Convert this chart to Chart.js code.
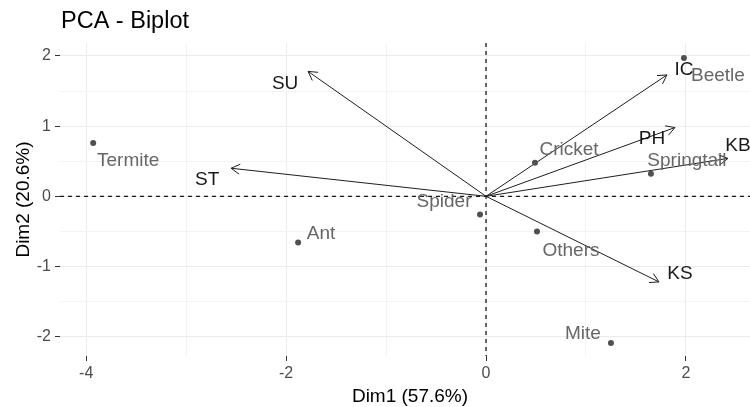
<!DOCTYPE html>
<html lang="en">
<head>
<meta charset="UTF-8">
<title>PCA - Biplot</title>
<style>
  html, body { margin: 0; padding: 0; background: #fff; }
  #wrap { width: 750px; height: 407px; }
</style>
</head>
<body>
<div id="wrap"><canvas id="myChart"></canvas></div>
<script src="https://cdn.jsdelivr.net/npm/chart.js"></script>
<script>
  // individuals (PCA scores)
  const indNames = ['Termite', 'Ant', 'Spider', 'Others', 'Mite', 'Cricket', 'Springtail', 'Beetle'];
  const indDim1 = [-3.93, -1.88, -0.06, 0.51, 1.25, 0.49, 1.65, 1.98];
  const indDim2 = [0.76, -0.66, -0.26, -0.50, -2.09, 0.48, 0.32, 1.97];

  // variables (arrows)
  const varNames = ['SU', 'ST', 'IC', 'PH', 'KB', 'KS'];
  const varDim1 = [-1.78, -2.55, 1.81, 1.89, 2.42, 1.73];
  const varDim2 = [1.78, 0.40, 1.73, 0.98, 0.54, -1.22];

  // axis breaks
  const xTicks = [-4, -3, -2, -1, 0, 1, 2];
  const xMajor = [-4, -2, 0, 2];
  const yTicks = [-2, -1.5, -1, -0.5, 0, 0.5, 1, 1.5, 2];
  const yMajor = [-2, -1, 0, 1, 2];

  // label placement (pixel offsets from the point / arrow tip)
  const indLabelOffset = {
    Termite: [35, 17.5], Ant: [23, -9], Spider: [-36, -13], Others: [34, 19],
    Mite: [-28, -9], Cricket: [34, -13], Springtail: [36, -13], Beetle: [34, 17.5]
  };
  const varLabelOffset = {
    SU: [-23, 12], ST: [-24, 12], IC: [17, -5], PH: [-23, 11], KB: [10, -13], KS: [21, -8.5]
  };

  const FONT = '"Liberation Sans", Arial, sans-serif';

  let datasets = [];
  datasets.push({
    type: 'scatter',
    label: 'ind',
    data: indNames.map((n, i) => ({ x: indDim1[i], y: indDim2[i] })),
    pointRadius: 3,
    pointBackgroundColor: '#505050',
    pointBorderWidth: 0
  });
  for (let i = 0; i < varNames.length; i++) {
    datasets.push({
      type: 'line',
      label: varNames[i],
      data: [{ x: 0, y: 0 }, { x: varDim1[i], y: varDim2[i] }],
      borderColor: '#1e1e1e',
      borderWidth: 1,
      pointRadius: 0,
      fill: false
    });
  }

  const biplotDecor = {
    id: 'biplotDecor',
    beforeDatasetsDraw(chart) {
      const { ctx, chartArea, scales } = chart;
      const x0 = scales.x.getPixelForValue(0);
      const y0 = scales.y.getPixelForValue(0);
      ctx.save();
      ctx.strokeStyle = '#1a1a1a';
      ctx.lineWidth = 1.3;
      ctx.setLineDash([4, 4]);
      ctx.beginPath();
      ctx.moveTo(chartArea.left, y0);
      ctx.lineTo(chartArea.right, y0);
      ctx.moveTo(x0, chartArea.top);
      ctx.lineTo(x0, chartArea.bottom);
      ctx.stroke();
      ctx.restore();
    },
    afterDatasetsDraw(chart) {
      const { ctx, scales } = chart;
      const x0 = scales.x.getPixelForValue(0);
      const y0 = scales.y.getPixelForValue(0);
      ctx.save();

      // arrow heads
      ctx.strokeStyle = '#1e1e1e';
      ctx.lineWidth = 1;
      for (let i = 0; i < varNames.length; i++) {
        const tx = scales.x.getPixelForValue(varDim1[i]);
        const ty = scales.y.getPixelForValue(varDim2[i]);
        const a = Math.atan2(ty - y0, tx - x0);
        const len = 10, spread = Math.PI / 6;
        ctx.beginPath();
        ctx.moveTo(tx - len * Math.cos(a - spread), ty - len * Math.sin(a - spread));
        ctx.lineTo(tx, ty);
        ctx.lineTo(tx - len * Math.cos(a + spread), ty - len * Math.sin(a + spread));
        ctx.stroke();
      }

      ctx.textAlign = 'center';
      ctx.textBaseline = 'middle';
      ctx.font = '19px ' + FONT;

      // individual labels
      ctx.fillStyle = '#676767';
      indNames.forEach((n, i) => {
        const px = scales.x.getPixelForValue(indDim1[i]);
        const py = scales.y.getPixelForValue(indDim2[i]);
        const off = indLabelOffset[n];
        ctx.fillText(n, px + off[0], py + off[1]);
      });

      // variable labels
      ctx.fillStyle = '#1a1a1a';
      varNames.forEach((n, i) => {
        const px = scales.x.getPixelForValue(varDim1[i]);
        const py = scales.y.getPixelForValue(varDim2[i]);
        const off = varLabelOffset[n];
        ctx.fillText(n, px + off[0], py + off[1]);
      });
      ctx.restore();
    },
    afterDraw(chart) {
      const { ctx, chartArea } = chart;
      ctx.save();
      ctx.fillStyle = '#000000';
      ctx.textBaseline = 'middle';

      // title
      ctx.textAlign = 'left';
      ctx.font = '23.5px ' + FONT;
      ctx.fillText('PCA - Biplot', chartArea.left + 1, 22);

      // axis titles
      ctx.textAlign = 'center';
      ctx.font = '19px ' + FONT;
      ctx.fillText('Dim1 (57.6%)', (chartArea.left + chartArea.right) / 2 + 5, 397);
      ctx.translate(24, (chartArea.top + chartArea.bottom) / 2);
      ctx.rotate(-Math.PI / 2);
      ctx.fillText('Dim2 (20.6%)', 0, 0);
      ctx.restore();
    }
  };

  const ctx = document.getElementById('myChart');

  new Chart(ctx, {
    type: 'scatter',
    data: { datasets: datasets },
    options: {
      responsive: true,
      maintainAspectRatio: false,
      animation: false,
      layout: { padding: { top: 43, left: 0, right: 0, bottom: 0 }, autoPadding: false },
      scales: {
        x: {
          type: 'linear',
          min: -4.262,
          max: 2.641,
          afterBuildTicks: (scale) => { scale.ticks = xTicks.map(v => ({ value: v })); },
          afterFit: (scale) => { scale.height = 51; },
          border: { display: false },
          grid: {
            color: (c) => (c.tick && xMajor.includes(c.tick.value)) ? '#ebebeb' : '#f3f3f3',
            lineWidth: 1,
            tickLength: 5,
            tickColor: (c) => (c.tick && xMajor.includes(c.tick.value)) ? '#333333' : 'rgba(0,0,0,0)'
          },
          ticks: {
            padding: 3,
            color: '#4d4d4d',
            font: { family: FONT, size: 16 },
            maxRotation: 0,
            autoSkip: false,
            callback: (v) => xMajor.includes(v) ? String(v) : ''
          }
        },
        y: {
          type: 'linear',
          min: -2.276,
          max: 2.185,
          afterBuildTicks: (scale) => { scale.ticks = yTicks.map(v => ({ value: v })); },
          afterFit: (scale) => { scale.width = 60; },
          border: { display: false },
          grid: {
            color: (c) => (c.tick && yMajor.includes(c.tick.value)) ? '#ebebeb' : '#f3f3f3',
            lineWidth: 1,
            tickLength: 5,
            tickColor: (c) => (c.tick && yMajor.includes(c.tick.value)) ? '#333333' : 'rgba(0,0,0,0)'
          },
          ticks: {
            padding: 4,
            color: '#4d4d4d',
            font: { family: FONT, size: 16 },
            autoSkip: false,
            callback: (v) => yMajor.includes(v) ? String(v) : ''
          }
        }
      },
      plugins: {
        legend: { display: false },
        tooltip: { enabled: false }
      }
    },
    plugins: [biplotDecor]
  });
</script>
</body>
</html>
